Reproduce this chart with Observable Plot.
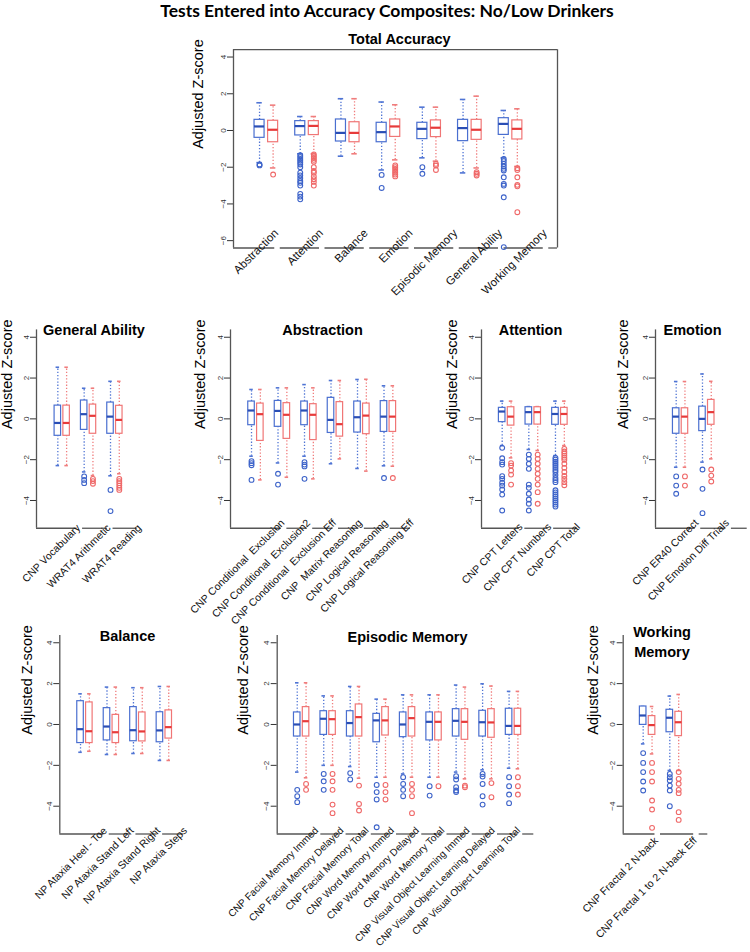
<!DOCTYPE html>
<html><head><meta charset="utf-8">
<script src="https://cdn.jsdelivr.net/npm/d3@7"></script>
<script src="https://cdn.jsdelivr.net/npm/@observablehq/plot@0.6"></script>
<style>
body{margin:0;background:#fff;}
#wrap{position:relative;width:750px;height:952px;overflow:hidden;font-family:"Liberation Sans",Arial,sans-serif;background:#fff;}
.ttl{position:absolute;transform:translate(-50%,-50%);font-weight:bold;white-space:nowrap;text-align:center;color:#000;font-size:14.5px;line-height:20px;}
</style></head><body><div id="wrap"></div>
<script>
// ---------- DATA: [whisker low, Q1, median, Q3, whisker high] ----------
// Total Accuracy
const totTests = ["Abstraction","Attention","Balance","Emotion","Episodic Memory","General Ability","Working Memory"];
const totA = [[-1.75,-0.4,0.22,0.58,1.51],[-1.27,-0.27,0.24,0.51,0.76],[-1.4,-0.6,-0.13,0.6,1.73],[-2.15,-0.64,-0.09,0.42,1.55],[-1.49,-0.47,0.09,0.42,1.27],[-2.31,-0.58,0.13,0.58,1.69],[-1.49,-0.24,0.36,0.67,1.09]];
const totB = [[-2.04,-0.64,0.04,0.53,1.38],[-1.27,-0.25,0.25,0.51,0.76],[-1.27,-0.64,-0.13,0.45,1.73],[-1.6,-0.35,0.22,0.6,1.4],[-1.67,-0.36,0.15,0.55,1.27],[-2.04,-0.51,0.04,0.58,1.87],[-1.96,-0.49,0.09,0.55,1.18]];
const totAOut = [[-1.85,-1.9],[-1.35,-1.45,-1.55,-1.65,-1.75,-1.85,-2.0,-2.3,-2.45,-2.6,-2.75,-2.85,-3.0,-3.45,-3.6,-3.75],[],[-2.42,-3.13],[-2.0,-2.36],[],[-1.55,-1.67,-1.82,-1.96,-2.09,-2.18,-2.55,-2.91,-3.0,-3.64,-6.35]];
const totBOut = [[-2.4],[-1.3,-1.4,-1.5,-1.6,-1.7,-2.0,-2.2,-2.3,-2.5,-2.65,-2.8,-3.0],[],[-1.9,-2.0,-2.1,-2.2,-2.3,-2.4,-2.5],[-1.82,-1.91,-2.15],[-2.27,-2.36,-2.45],[-2.05,-2.15,-2.55,-2.96,-3.04,-4.45]];
// General Ability
const genTests = ["CNP Vocabulary","WRAT4 Arithmetic","WRAT4 Reading"];
const genA = [[-2.29,-0.83,-0.2,0.65,2.53],[-2.6,-0.54,0.23,0.9,1.5],[-2.79,-0.73,0.11,0.8,1.84]];
const genB = [[-2.29,-0.83,-0.2,0.65,2.53],[-2.78,-0.73,0.15,0.7,1.5],[-2.69,-0.73,-0.05,0.64,1.84]];
const genAOut = [[],[-2.82,-2.99,-3.15],[-3.48,-4.52]];
const genBOut = [[],[-2.94,-3.05,-3.18],[-2.94,-3.05,-3.15,-3.27,-3.38,-3.48]];
// Abstraction
const absTests = ["CNP Conditional\u00a0 Exclusion","CNP Conditional\u00a0 Exclusion2","CNP Conditional\u00a0 Exclusion Eff","CNP\u00a0 Matrix Reasoning","CNP Logical Reasoning","CNP Logical Reasoning Eff"];
const absA = [[-1.83,-0.31,0.41,0.85,1.44],[-2.16,-0.39,0.39,0.88,1.52],[-1.83,-0.31,0.41,0.85,1.68],[-2.2,-0.69,-0.05,1.03,1.88],[-2.43,-0.67,0.08,0.85,1.93],[-2.3,-0.64,0.11,0.87,1.62]];
const absB = [[-2.99,-1.08,0.23,0.75,1.44],[-2.86,-0.98,0.2,0.77,1.52],[-2.94,-1.04,0.2,0.72,1.52],[-1.96,-0.87,-0.26,0.82,1.88],[-2.56,-0.75,0.16,0.75,1.94],[-2.32,-0.64,0.11,0.87,1.62]];
const absAOut = [[-2.07,-2.17,-2.27,-2.99],[-2.69,-3.22],[-2.12,-2.24,-2.33,-2.94],[],[],[-2.9]];
const absBOut = [[],[],[],[],[],[-2.9]];
// Attention
const attTests = ["CNP CPT Letters","CNP CPT Numbers","CNP CPT Total"];
const attA = [[-1.31,-0.16,0.36,0.54,0.87],[-1.5,-0.28,0.33,0.57,0.6],[-1.8,-0.29,0.24,0.54,0.87]];
const attB = [[-1.91,-0.33,0.11,0.57,0.87],[-1.55,-0.28,0.33,0.57,0.6],[-1.31,-0.29,0.24,0.54,0.87]];
const attAOut = [[-1.42,-1.93,-2.12,-2.24,-2.81,-2.94,-3.13,-3.27,-3.46,-3.71,-4.49],[-1.75,-1.96,-2.2,-2.45,-3.22,-3.38,-3.67,-3.95,-4.16,-4.49],[-1.91,-2.0,-2.1,-2.2,-2.3,-2.4,-2.5,-2.6,-2.75,-2.9,-3.0,-3.1,-3.5,-3.6,-3.7,-3.8,-3.9,-4.0,-4.1,-4.2,-4.3]];
const attBOut = [[-2.17,-2.29,-2.53,-2.73,-3.22],[-1.75,-1.96,-2.2,-2.45,-2.69,-2.94,-3.22,-3.59,-4.16],[-1.47,-1.6,-1.7,-1.8,-1.9,-2.0,-2.2,-2.4,-2.6,-2.8,-2.95,-3.1,-3.25]];
// Emotion
const emoTests = ["CNP ER40 Correct","CNP Emotion Diff Trials"];
const emoA = [[-2.37,-0.73,0.11,0.52,1.83],[-2.12,-0.6,0,0.6,2.2]];
const emoB = [[-2.37,-0.73,0.11,0.52,1.83],[-1.96,-0.29,0.33,0.93,1.84]];
const emoAOut = [[-2.82,-3.27,-3.67],[-2.48,-3.43,-4.62]];
const emoBOut = [[-2.82,-3.27],[-2.48,-2.78,-3.07]];
// Balance
const balTests = ["NP Ataxia Heel - Toe","NP Ataxia Stand Left","NP Ataxia Stand Right","NP Ataxia Steps"];
const balA = [[-1.36,-0.91,-0.23,1.14,1.5],[-1.47,-0.78,-0.1,0.8,1.83],[-1.42,-0.82,-0.28,0.85,1.8],[-1.76,-0.87,-0.29,0.6,1.86]];
const balB = [[-1.31,-0.91,-0.33,1.08,1.5],[-1.47,-0.91,-0.38,0.47,1.83],[-1.42,-0.83,-0.34,0.59,1.8],[-1.76,-0.69,-0.13,0.69,1.86]];
const balAOut = [[],[],[],[]];
const balBOut = [[],[],[],[]];
// Episodic Memory
const emTests = ["CNP Facial Memory Immed","CNP Facial Memory Delayed","CNP Facial Memory Total","CNP Word Memory Immed","CNP Word Memory Delayed","CNP Word Memory Total","CNP Visual Object Learning Immed","CNP Visual Object Learning Delayed","CNP Visual Object Learning Total"];
const emA = [[-2.33,-0.59,0,0.59,2.04],[-2.0,-0.51,0.28,0.65,1.4],[-2.06,-0.59,0.07,0.65,1.86],[-2.58,-0.87,0.2,0.52,1.24],[-2.42,-0.62,0,0.59,1.45],[-2.58,-0.78,0.13,0.59,1.45],[-2.33,-0.59,0.18,0.75,1.93],[-2.22,-0.59,0.11,0.67,1.99],[-2.14,-0.51,-0.07,0.77,1.62]];
const emB = [[-2.61,-0.59,0.16,0.85,2.04],[-2.0,-0.51,0.26,0.65,1.4],[-2.63,-0.59,0.36,0.98,1.86],[-2.58,-0.54,0.2,0.85,1.24],[-2.58,-0.59,0.31,0.85,1.45],[-2.58,-0.78,0.13,0.59,1.45],[-2.66,-0.75,0.13,0.75,1.83],[-2.66,-0.65,0.1,0.75,1.88],[-2.17,-0.51,-0.07,0.77,1.62]];
const emAOut = [[-3.2,-3.51,-3.8],[-2.42,-2.78,-3.2],[-2.38,-2.69],[-2.96,-3.31,-3.67,-5.03],[-2.58,-2.91,-3.2,-3.51],[-3.02,-3.48],[-2.53,-2.69,-3.07,-3.23,-3.31],[-2.42,-2.55,-2.91,-3.51,-3.92],[-2.58,-3.02,-3.43,-3.85]];
const emBOut = [[-2.91,-3.2],[-2.42,-2.78,-3.2,-3.92,-4.34],[-2.99,-3.89,-4.21],[-2.96,-3.31,-3.67],[-2.91,-3.2,-3.51,-4.34],[-3.02],[-2.99,-3.07],[-2.87,-3.56],[-2.58,-3.02,-3.43]];
// Working Memory
const wmTests = ["CNP Fractal 2 N-back","CNP Fractal 1 to 2 N-back Eff"];
const wmA = [[-0.95,-0.02,0.44,0.88,0.88],[-2.25,-0.38,0.33,0.72,1.39]];
const wmB = [[-1.44,-0.51,-0.03,0.41,0.88],[-2.25,-0.57,0.11,0.62,1.47]];
const wmAOut = [[-1.4,-1.88,-2.33,-2.79,-3.23],[-2.42,-2.58,-2.74,-2.99,-3.23,-4.0]];
const wmBOut = [[-1.88,-2.33,-2.79,-3.72,-4.16,-5.06],[-2.33,-2.66,-2.9,-3.2,-3.36,-4.29,-4.67]];
const yTicksTotal = [-6,-4,-2,0,2,4];
const yTicksPanel = [-4,-2,0,2,4];
const yLabel = "Adjusted Z-score";
const mainTitle = "Tests Entered into Accuracy Composites: No/Low Drinkers";

// ---------- STYLE ----------
const COLORS = [
  {box:"#4a6fd0", med:"#2a4eb5", wh:"#4f74d4", out:"#3d63c9"},
  {box:"#f07676", med:"#e73a3a", wh:"#f07d7d", out:"#ef6868"}
];
const wrap = document.getElementById("wrap");

function addTitle(text, cx, cy, fs, fam) {
  const d = document.createElement("div");
  d.className = "ttl";
  d.style.left = cx + "px"; d.style.top = cy + "px";
  if (fs) d.style.fontSize = fs + "px";
  if (fam) d.style.fontFamily = fam;
  d.innerHTML = text;
  wrap.appendChild(d);
}

function panel(cfg) {
  const {tests, A, B, AO, BO} = cfg;
  const rows = [], outs = [];
  tests.forEach((t, i) => {
    [[A, AO, 0], [B, BO, 1]].forEach(([S, O, g]) => {
      const [lo, q1, med, q3, hi] = S[i];
      const pos = 3 * i + 1 + g;
      rows.push({pos, g, lo, q1, med, q3, hi});
      O[i].forEach(v => outs.push({pos, g, v}));
    });
  });
  const hw = 0.37, cw = 0.2;
  const u = (cfg.x1 - cfg.x0) / (cfg.xdom[1] - cfg.xdom[0]);
  const n = tests.length;
  const labs = tests.map((t, i) => ({t, x: cfg.lab[0] + i * (cfg.lab[1] - cfg.lab[0]) / (n - 1)}));
  const segs = []; let start = cfg.xdom[0];
  labs.forEach(l => {
    const gs = l.x + 1.5 / u, ge = l.x + 7 / u;
    if (gs > start) segs.push({x1: start, x2: Math.min(gs, cfg.xdom[1])});
    start = ge;
  });
  if (start < cfg.xdom[1]) segs.push({x1: start, x2: cfg.xdom[1]});

  const marks = [];
  const axisCol = "#555";
  marks.push(Plot.ruleX([cfg.xdom[0]], {stroke: axisCol, strokeWidth: 1.3}));
  if (cfg.frame) {
    marks.push(Plot.ruleX([cfg.xdom[1]], {stroke: axisCol, strokeWidth: 1.3}));
    marks.push(Plot.ruleY([cfg.ydom[1]], {stroke: axisCol, strokeWidth: 1.3}));
  }
  marks.push(Plot.ruleY(segs, {y: cfg.ydom[0], x1: "x1", x2: "x2", stroke: axisCol, strokeWidth: 1.3}));
  for (const g of [0, 1]) {
    const C = COLORS[g];
    const R = rows.filter(d => d.g === g);
    marks.push(
      Plot.ruleX(R, {x: "pos", y1: "q3", y2: "hi", stroke: C.wh, strokeWidth: 1.3, strokeDasharray: "1.3,1.9"}),
      Plot.ruleX(R, {x: "pos", y1: "lo", y2: "q1", stroke: C.wh, strokeWidth: 1.3, strokeDasharray: "1.3,1.9"}),
      Plot.ruleY(R, {y: "hi", x1: d => d.pos - cw, x2: d => d.pos + cw, stroke: C.wh, strokeWidth: 1.6}),
      Plot.ruleY(R, {y: "lo", x1: d => d.pos - cw, x2: d => d.pos + cw, stroke: C.wh, strokeWidth: 1.6}),
      Plot.rect(R, {x1: d => d.pos - hw, x2: d => d.pos + hw, y1: "q1", y2: "q3", fill: "white", stroke: C.box, strokeWidth: 1.2}),
      Plot.ruleY(R, {y: "med", x1: d => d.pos - hw, x2: d => d.pos + hw, stroke: C.med, strokeWidth: 2.2}),
      Plot.dot(outs.filter(d => d.g === g), {x: "pos", y: "v", r: 2.4, stroke: C.out, fill: "none", strokeWidth: 1.1})
    );
  }
  marks.push(Plot.text([yLabel], {frameAnchor: "left", text: d => d, rotate: -90, dx: cfg.ylabDx, fontSize: 14.5, fill: "#000"}));
  marks.push(Plot.text(labs, {x: "x", frameAnchor: "bottom", dy: cfg.labDy, text: "t", rotate: -45, textAnchor: "end", lineAnchor: "top", fontSize: cfg.labFs, fill: "#111"}));

  const svg = Plot.plot({
    width: cfg.w, height: cfg.h,
    marginLeft: cfg.x0 - cfg.left,
    marginRight: cfg.w - (cfg.x1 - cfg.left),
    marginTop: cfg.yTop - cfg.top,
    marginBottom: cfg.h - (cfg.yBot - cfg.top),
    x: {domain: cfg.xdom, axis: null},
    y: {domain: cfg.ydom, ticks: cfg.ticks, tickRotate: -90, tickSize: 6, tickPadding: 2, label: null},
    style: {background: "transparent", overflow: "visible", position: "absolute", left: cfg.left + "px", top: cfg.top + "px", fontFamily: "'Liberation Sans', Arial, sans-serif", fontSize: "8px", color: "#333", maxWidth: "none"},
    marks
  });
  wrap.appendChild(svg);
}

const row1 = {yTop: 329.4, yBot: 527.75, top: 320, h: 300, ydom: [-5.36, 4.36], ticks: yTicksPanel, labFs: 10.5};
const row2 = {yTop: 634.9, yBot: 833.5, top: 625, h: 327, ydom: [-5.36, 4.36], ticks: yTicksPanel, labFs: 10.5};

panel({tests: totTests, A: totA, B: totB, AO: totAOut, BO: totBOut, frame: true,
  left: 170, top: 44, w: 395, h: 256, x0: 233, x1: 557, yTop: 49.2, yBot: 247.5,
  xdom: [-0.92, 22.96], ydom: [-6.4, 4.4], ticks: yTicksTotal, lab: [2.01, 21.8], labDy: -20, ylabDx: -35, labFs: 11.5});
panel({...row1, tests: genTests, A: genA, B: genB, AO: genAOut, BO: genBOut,
  left: 0, w: 160, x0: 36, x1: 136.7, xdom: [-1.43, 10.04], lab: [3.02, 9.96], labDy: -5, ylabDx: -29});
panel({...row1, tests: absTests, A: absA, B: absB, AO: absAOut, BO: absBOut,
  left: 180, w: 240, x0: 230, x1: 410, xdom: [-1.38, 19.0], lab: [4.21, 18.83], labDy: -10, ylabDx: -30});
panel({...row1, tests: attTests, A: attA, B: attB, AO: attAOut, BO: attBOut,
  left: 425, w: 165, x0: 481, x1: 580, xdom: [-1.33, 9.82], lab: [2.76, 9.25], labDy: -6, ylabDx: -29});
panel({...row1, tests: emoTests, A: emoA, B: emoB, AO: emoAOut, BO: emoBOut,
  left: 600, w: 150, x0: 655, x1: 746.7, xdom: [-1.36, 9.1], lab: [3.0, 6.5], labDy: -10, ylabDx: -32});
panel({...row2, tests: balTests, A: balA, B: balB, AO: balAOut, BO: balBOut,
  left: 0, w: 200, x0: 59.3, x1: 185, xdom: [-1.35, 12.9], lab: [3.46, 12.54], labDy: -8, ylabDx: -32});
panel({...row2, tests: emTests, A: emA, B: emB, AO: emAOut, BO: emBOut, labFs: 10,
  left: 220, w: 330, x0: 276.7, x1: 533.3, xdom: [-1.27, 27.8], lab: [2.88, 25.75], labDy: -8, ylabDx: -34});
panel({...row2, tests: wmTests, A: wmA, B: wmB, AO: wmAOut, BO: wmBOut,
  left: 570, w: 180, x0: 622.7, x1: 707.3, xdom: [-1.25, 8.28], lab: [2.16, 6.52], labDy: 2, ylabDx: -30});

addTitle(mainTitle, 387, 11, 17.5, "Lato, 'Open Sans', sans-serif");
addTitle("Total Accuracy", 399.5, 39);
addTitle("General Ability", 94, 330);
addTitle("Abstraction", 322.5, 330);
addTitle("Attention", 530.5, 330);
addTitle("Emotion", 692.5, 330);
addTitle("Balance", 127.5, 636);
addTitle("Episodic Memory", 407.5, 637);
addTitle("Working<br>Memory", 662, 642);
</script></body></html>
